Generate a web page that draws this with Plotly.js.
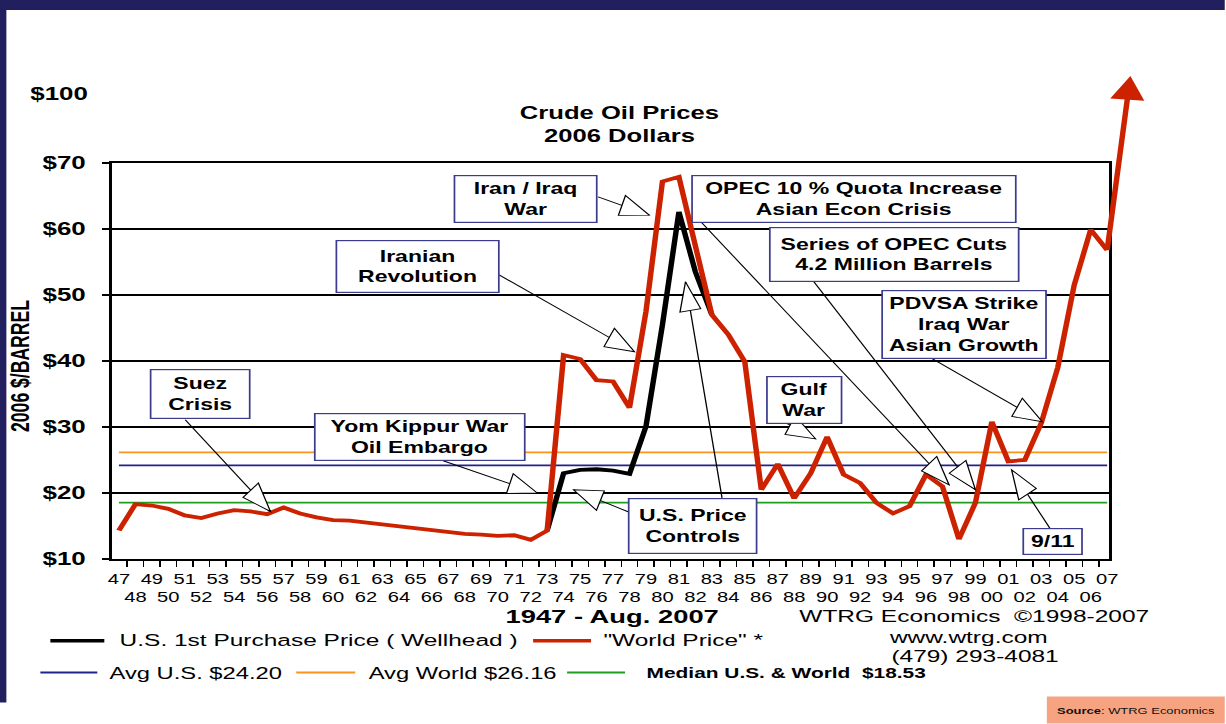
<!DOCTYPE html>
<html>
<head>
<meta charset="utf-8">
<script src="https://cdn.plot.ly/plotly-3.0.1.min.js"></script>
<style>
html,body{margin:0;padding:0;background:#ffffff;overflow:hidden;width:1226px;height:724px;}
#chart{position:absolute;left:0;top:0;transform-origin:0 0;}
</style>
</head>
<body>
<div id="chart"></div>
<script>
// ---------------- DATA ----------------
const years = [1947,1948,1949,1950,1951,1952,1953,1954,1955,1956,1957,1958,1959,1960,1961,1962,1963,1964,1965,1966,1967,1968,1969,1970,1971,1972,1973,1974,1975,1976,1977,1978,1979,1980,1981,1982,1983,1984,1985,1986,1987,1988,1989,1990,1991,1992,1993,1994,1995,1996,1997,1998,1999,2000,2001,2002,2003,2004,2005,2006,2007];
const yearLabels = ['47','48','49','50','51','52','53','54','55','56','57','58','59','60','61','62','63','64','65','66','67','68','69','70','71','72','73','74','75','76','77','78','79','80','81','82','83','84','85','86','87','88','89','90','91','92','93','94','95','96','97','98','99','00','01','02','03','04','05','06','07'];
// "World Price" (2006 dollars)
const worldPrice = [14.3,18.3,18.1,17.6,16.6,16.2,16.9,17.4,17.2,16.8,17.8,16.9,16.3,15.9,15.8,15.5,15.2,14.9,14.6,14.3,14.0,13.8,13.7,13.5,13.6,12.9,14.3,40.9,40.3,37.1,36.9,32.9,47.5,67.2,67.9,57.0,47.0,44.0,39.9,20.5,24.4,19.2,23.0,28.5,22.8,21.5,18.5,16.9,18.0,22.8,21.0,13.0,18.5,30.8,24.8,25.0,30.6,39.0,51.5,59.9,56.8];
// U.S. 1st Purchase Price (Wellhead) where it separates from the world price
const usYears = [1973,1974,1975,1976,1977,1978,1979,1980,1981,1982,1983];
const usPrice = [14.3,23.0,23.5,23.6,23.4,22.9,30.1,45.5,62.6,53.5,47.0];
const avgUS = 24.20;
const avgWorld = 26.16;
const medianAll = 18.53;
const yTickVals = [10,20,30,40,50,60,70];
const yTickText = ['$10','$20','$30','$40','$50','$60','$70'];

// ---------------- GEOMETRY ----------------
const S = 1.44;                 // horizontal stretch of the whole picture
const FULLW = 1226, FULLH = 724;
const W0 = FULLW / S;
const M = {l: 113 / S, r: (FULLW - 1110) / S, t: 163, b: FULLH - 559.3};
const PW = W0 - M.l - M.r, PH = FULLH - M.t - M.b;
const XR = [1946.6, 2007.1], YR = [10, 70];
const sx = v => S * (M.l + (v - XR[0]) / (XR[1] - XR[0]) * PW);
const sy = v => M.t + (YR[1] - v) / (YR[1] - YR[0]) * PH;
const px = xs => (xs / S - M.l) / PW;
const py = ys => (FULLH - M.b - ys) / PH;

const el = document.getElementById('chart');
el.style.width = W0 + 'px';
el.style.height = FULLH + 'px';
el.style.transform = 'scaleX(' + S + ')';

const F = 'Liberation Sans, Arial, sans-serif';
const FN = 'Liberation Sans Narrow, Arial Narrow, Liberation Sans, sans-serif';
const RED = '#CC2200', BLUE = '#22228C', ORANGE = '#F7941D', GREEN = '#1F9E1F', NAVY = '#211F5E';

// ---------------- TRACES ----------------
const first = years[0], last = years[years.length - 1];
const traces = [
  {x: [first, last], y: [avgWorld, avgWorld], mode: 'lines', line: {color: ORANGE, width: 1.8}, hoverinfo: 'skip'},
  {x: [first, last], y: [avgUS, avgUS], mode: 'lines', line: {color: BLUE, width: 1.8}, hoverinfo: 'skip'},
  {x: [first, last], y: [medianAll, medianAll], mode: 'lines', line: {color: GREEN, width: 1.8}, hoverinfo: 'skip'},
  {x: usYears, y: usPrice, mode: 'lines', line: {color: '#000000', width: 3.8}, name: 'U.S. 1st Purchase Price'},
  {x: years, y: worldPrice, mode: 'lines', line: {color: RED, width: 3.8}, name: 'World Price'}
];

// ---------------- CALLOUTS ----------------
const callouts = [
  {lines: ['Suez', 'Crisis'], box: [150, 369, 251, 419], arrows: [{tip: [1956.2, 17.2], tail: [186, 420]}]},
  {lines: ['Yom Kippur War', 'Oil Embargo'], box: [315, 414, 526, 461], arrows: [{tip: [1972.4, 20.0], tail: [444, 461]}]},
  {lines: ['Iranian', 'Revolution'], box: [336, 240, 500, 293], arrows: [{tip: [1978.3, 41.4], tail: [500, 275]}]},
  {lines: ['Iran / Iraq', 'War'], box: [455, 177, 599, 222], arrows: [{tip: [1979.2, 62.1], tail: [599, 197]}]},
  {lines: ['OPEC 10 % Quota Increase', 'Asian Econ Crisis'], box: [692, 176, 1017, 222], arrows: [{tip: [1997.4, 21.25], tail: [702, 222]}]},
  {lines: ['Series of OPEC Cuts', '4.2 Million Barrels'], box: [771, 227, 1021, 282], arrows: [{tip: [1999.0, 20.5], tail: [815, 282]}]},
  {lines: ['PDVSA Strike', 'Iraq War', 'Asian Growth'], box: [882, 292, 1047, 357], arrows: [{tip: [2003.06, 30.8], tail: [932, 358]}]},
  {lines: ['Gulf', 'War'], box: [768, 378, 844, 422], arrows: [{tip: [1989.3, 28.2], tail: [785, 422]}]},
  {lines: ['U.S. Price', 'Controls'], box: [629, 498, 759, 554], arrows: [{tip: [1974.6, 20.5], tail: [629, 512]}, {tip: [1981.4, 52.0], tail: [723, 498]}]},
  {lines: ['9/11'], box: [1024, 530, 1085, 554], arrows: [{tip: [2001.2, 23.5], tail: [1052, 530]}]}
];

const shapes = [];
const annotations = [];
const BOXFS = 16, PAD = 1.5, BW = 1.2;

function fmt(p) { return (p[0] / S).toFixed(2) + ',' + (-p[1]).toFixed(2); }

callouts.forEach(c => {
  c.arrows.forEach(a => {
    const tx = sx(a.tip[0]), ty = sy(a.tip[1]);
    const dx = a.tail[0] - tx, dy = a.tail[1] - ty;
    const len = Math.hypot(dx, dy), ux = dx / len, uy = dy / len;
    const L = 29, H = 10.5;
    const bx = ux * L, by = uy * L;
    const p1 = [bx - uy * H, by + ux * H], p2 = [bx + uy * H, by - ux * H];
    const base = {type: 'path', xref: 'x', yref: 'y', xsizemode: 'pixel', ysizemode: 'pixel',
                  xanchor: a.tip[0], yanchor: a.tip[1], layer: 'above'};
    shapes.push(Object.assign({}, base, {path: 'M0,0L' + fmt([dx, dy]), line: {color: '#000', width: 0.9}}));
    shapes.push(Object.assign({}, base, {path: 'M0,0L' + fmt(p1) + 'L' + fmt(p2) + 'Z',
                  fillcolor: '#ffffff', line: {color: '#000', width: 0.9}}));
  });
  const [x0, y0, x1, y1] = c.box;
  const natural = c.lines.length * BOXFS * 1.3 + 1;
  annotations.push({
    xref: 'paper', yref: 'paper', x: px((x0 + x1) / 2), y: py((y0 + y1) / 2),
    xanchor: 'center', yanchor: 'middle', showarrow: false, align: 'center', valign: 'middle',
    text: c.lines.join('<br>'),
    width: (x1 - x0) / S - 2 * PAD - 2 * BW,
    height: Math.max(natural, (y1 - y0) - 2 * PAD - 2 * BW),
    bgcolor: '#ffffff', bordercolor: '#3C3C8C', borderwidth: BW, borderpad: PAD,
    font: {family: F, size: BOXFS, color: '#000', weight: 700}
  });
});

// arrow continuing the world price off the chart
annotations.push({
  xref: 'x', yref: 'y', x: last, y: worldPrice[worldPrice.length - 1],
  axref: 'pixel', ayref: 'pixel', ax: (1132 - sx(last)) / S, ay: 73 - sy(worldPrice[worldPrice.length - 1]),
  text: ' ', font: {size: 2}, showarrow: true, arrowside: 'start', startarrowhead: 2, startarrowsize: 1.25,
  arrowhead: 2, arrowsize: 1.25, arrowwidth: 3.8, arrowcolor: RED, standoff: 0, startstandoff: 0
});

// titles and texts
function txt(text, xs, ys, opts) {
  return Object.assign({xref: 'paper', yref: 'paper', x: px(xs), y: py(ys), text: text,
    showarrow: false, xanchor: 'left', yanchor: 'middle',
    font: {family: F, size: 17, color: '#000'}}, opts || {});
}
annotations.push(txt('Crude Oil Prices<br>2006 Dollars', 620, 124.5,
  {xanchor: 'center', font: {family: F, size: 17.8, color: '#000', weight: 700}}));
annotations.push(txt('$100', 60, 94, {xanchor: 'center', font: {family: F, size: 18, color: '#000', weight: 700}}));
annotations.push(txt('2006 $/BARREL', 21, 366, {xanchor: 'center', textangle: -90,
  font: {family: F, size: 17.6, color: '#000', weight: 700}}));
annotations.push(txt('1947 - Aug. 2007', 612.5, 617, {xanchor: 'center', font: {family: F, size: 19, color: '#000', weight: 700}}));
annotations.push(txt('WTRG Economics\u00a0\u00a0\u00a91998-2007', 797.5, 617));
annotations.push(txt('www.wtrg.com', 887, 638));
annotations.push(txt('(479) 293-4081', 889, 657));
annotations.push(txt('U.S. 1st Purchase Price ( Wellhead )', 117, 641));
annotations.push(txt('"World Price" *', 602, 641));
annotations.push(txt('Avg U.S. $24.20', 107, 673, {font: {family: F, size: 16.5, color: '#000'}}));
annotations.push(txt('Avg World $26.16', 366, 673, {font: {family: F, size: 16.5, color: '#000'}}));
annotations.push(txt('Median U.S. &amp; World\u00a0 $18.53', 645, 673, {font: {family: F, size: 14.5, color: '#000', weight: 700}}));
annotations.push(txt('<b>Source</b>: WTRG Economics', 1137, 711, {xanchor: 'center', font: {family: F, size: 9, color: '#111'}}));

// legend swatches
function seg(x0, x1, y, color, w) {
  return {type: 'line', xref: 'paper', yref: 'paper', x0: px(x0), x1: px(x1), y0: py(y), y1: py(y),
          line: {color: color, width: w}, layer: 'above'};
}
shapes.push(seg(51, 105, 641, '#000', 3.5));
shapes.push(seg(534, 592, 641, RED, 3.5));
shapes.push(seg(41, 98, 673, BLUE, 2));
shapes.push(seg(297, 356, 673, ORANGE, 2));
shapes.push(seg(568, 626, 673, GREEN, 2));

// slide decorations: navy borders, source box
function rect(x0, y0, x1, y1, color) {
  return {type: 'rect', xref: 'paper', yref: 'paper', x0: px(x0), x1: px(x1), y0: py(y0), y1: py(y1),
          fillcolor: color, line: {width: 0}, layer: 'below'};
}
shapes.push(rect(0, 0, 1226, 10, NAVY));
shapes.push(rect(0, 0, 7, 703, NAVY));
shapes.push(rect(1048, 697, 1226, 724, '#F6A381'));

const boundaries = years.map(y => y - 0.5);

const layout = {
  width: W0, height: FULLH,
  margin: {l: M.l, r: M.r, t: M.t, b: M.b, pad: 0},
  paper_bgcolor: '#ffffff', plot_bgcolor: '#ffffff',
  showlegend: false,
  xaxis: {
    range: XR, type: 'linear', tickmode: 'array', tickvals: years,
    ticktext: yearLabels.map((t, i) => i % 2 === 0 ? t : '<br>' + t),
    tickangle: 0, ticks: '', ticklabelstandoff: 6,
    tickfont: {family: FN, size: 14, color: '#000'},
    showgrid: false, zeroline: false, showline: true, mirror: true, linecolor: '#000', linewidth: 2,
    minor: {tickmode: 'array', tickvals: boundaries, ticks: 'outside', ticklen: 6, tickwidth: 1, tickcolor: '#000', showgrid: false},
    automargin: false, fixedrange: true
  },
  yaxis: {
    range: YR, tickmode: 'array', tickvals: yTickVals, ticktext: yTickText,
    ticks: 'outside', ticklen: 7 / S, tickwidth: 1.7, tickcolor: '#000', ticklabelstandoff: 8,
    tickfont: {family: F, size: 18, color: '#000', weight: 700},
    showgrid: true, gridcolor: '#000', gridwidth: 1.6, zeroline: false,
    showline: true, mirror: true, linecolor: '#000', linewidth: 2,
    automargin: false, fixedrange: true
  },
  shapes: shapes,
  annotations: annotations
};

Plotly.newPlot('chart', traces, layout, {staticPlot: true, displayModeBar: false});
</script>
</body>
</html>
